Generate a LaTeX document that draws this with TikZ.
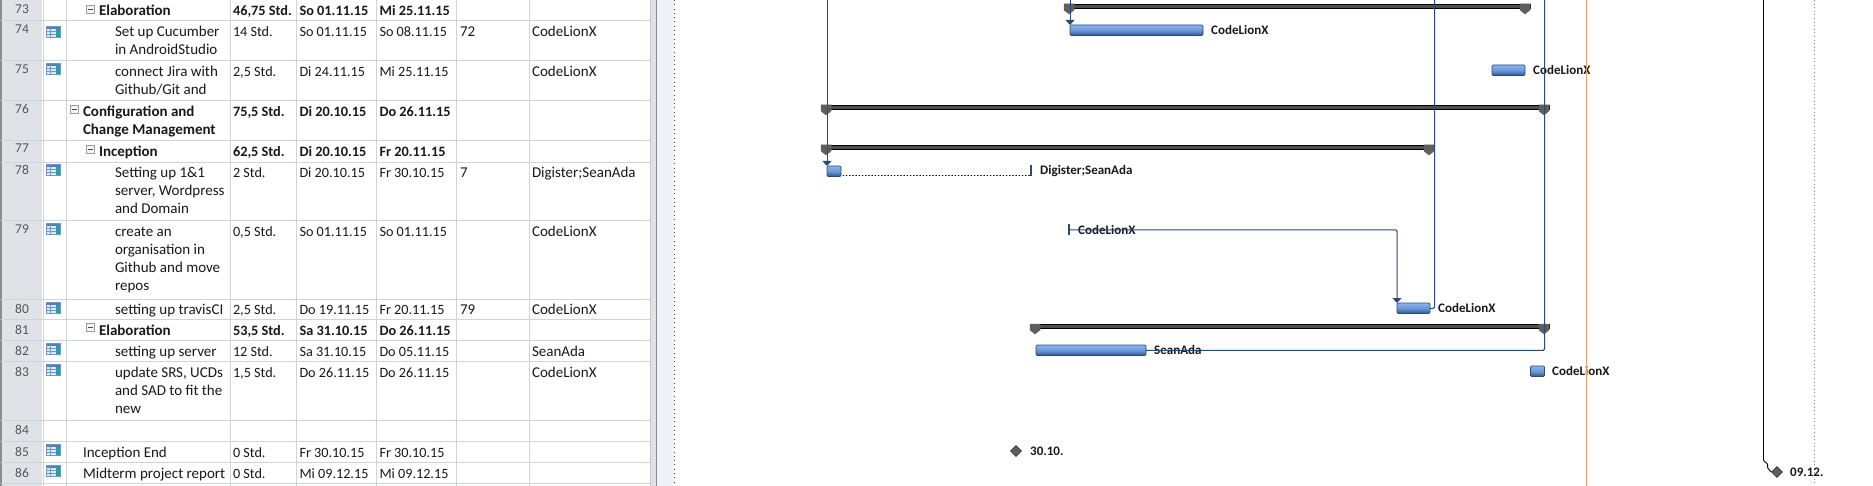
\documentclass[tikz,border=0pt]{standalone}
\usepackage{fontspec}
\setmainfont{Carlito}
\usetikzlibrary{shapes.geometric,arrows.meta}
\definecolor{gridc}{HTML}{D0D3D8}
\definecolor{numbg}{HTML}{DFE3E8}
\definecolor{numtx}{HTML}{555555}
\definecolor{pane}{HTML}{EEF2F7}
\definecolor{linkc}{HTML}{2B4A75}
\definecolor{bartop}{HTML}{8AB4EE}
\definecolor{barmid}{HTML}{6C98D8}
\definecolor{barbot}{HTML}{2F5888}
\definecolor{sumc}{HTML}{5E5F61}
\definecolor{sumd}{HTML}{4E4F51}
\definecolor{todayc}{HTML}{E8A468}
\definecolor{icband}{HTML}{4F7FB5}
\definecolor{icgrid}{HTML}{6E97C4}
\definecolor{iccell}{HTML}{DCE9F6}
\definecolor{icside}{HTML}{2F9BA5}
\newcommand{\ml}[1]{\begin{tabular}[t]{@{}l@{}}#1\end{tabular}}
\tikzset{
  x=1pt,y=-1pt,
  tx/.style={inner sep=0pt,outer sep=0pt,anchor=base west,yshift=-.6pt,text=black!90,font=\fontsize{15}{18}\selectfont},
  bx/.style={tx,font=\fontsize{15}{18}\selectfont\bfseries},
  dt/.style={tx,font=\fontsize{14.2}{18}\selectfont},
  bdt/.style={tx,font=\fontsize{14.3}{18}\selectfont\bfseries},
  num/.style={inner sep=0pt,anchor=base,text=numtx,font=\fontsize{13.5}{18}\selectfont},
  lab/.style={inner sep=0pt,anchor=west,text=black!90,font=\fontsize{13}{15}\selectfont\bfseries},
  taskbar/.style={draw=linkc,line width=.7pt,rounded corners=1.2pt,inner sep=0pt,outer sep=0pt,top color=bartop,bottom color=barbot,middle color=barmid},
  link/.style={draw=linkc,line width=1pt,rounded corners=1.2pt},
  arrowhead/.style={-{Triangle[length=5pt,width=9pt,fill=linkc]}},
  sumbar/.style={draw=black,line width=.9pt,fill=sumd,inner sep=0pt,outer sep=0pt},
  grid/.style={draw=gridc,line width=.8pt},
  tick/.style={fill=linkc,inner sep=0pt,outer sep=0pt,minimum width=2.4pt,minimum height=11pt},
  mile/.style={diamond,draw=black!80,fill=sumc,line width=.6pt,inner sep=0pt,minimum size=11pt},
}
\newcommand{\sumtask}[4]{% name, x1, x2, y top
  \node[sumbar,anchor=north west,minimum width=#3-#2,minimum height=4pt] (#1) at (#2,#4+.5) {};
  \fill[sumc,draw=black!60,line width=.5pt] (#2,#4) -- (#2+10,#4) -- (#2+10,#4+6) -- (#2+5,#4+10) -- (#2,#4+6) -- cycle;
  \fill[sumc,draw=black!60,line width=.5pt] (#3,#4) -- (#3-10,#4) -- (#3-10,#4+6) -- (#3-5,#4+10) -- (#3,#4+6) -- cycle;
}
\newcommand{\icon}[2]{% name, y
  \node[inner sep=0pt,outer sep=0pt,minimum width=14pt,minimum height=11pt,anchor=north west,fill=white,draw=none] (#1) at (46,#2) {};
  \fill[iccell] (46,#2) rectangle (60,#2+11);
  \fill[icband] (46,#2) rectangle (60,#2+2.8);
  \fill[icside] (55.5,#2+2.8) rectangle (60,#2+11);
  \draw[icgrid,line width=.5pt] (46,#2) rectangle (60,#2+11);
  \draw[icgrid,line width=.4pt] (46,#2+5.5) -- (55.5,#2+5.5) (46,#2+8.2) -- (55.5,#2+8.2) (50.5,#2) -- (50.5,#2+11);
}
\newcommand{\toggle}[3]{% name, x, y center
  \node[draw=black!40,fill=black!4,line width=.5pt,inner sep=0pt,minimum size=8pt] (#1) at (#2,#3) {};
  \draw[black!70,line width=.7pt] (#2-2.5,#3) -- (#2+2.5,#3);
}
\begin{document}
\begin{tikzpicture}
\useasboundingbox (0,0) rectangle (1873,486);
\fill[white] (0,0) rectangle (1873,486);
% number column and panes
\fill[numbg] (1,0) rectangle (42,486);
\fill[black!45] (0,0) rectangle (1.5,486);
\fill[pane] (657,0) rectangle (673.5,486);
\fill[black!22] (650,0) rectangle (651,486);
\fill[numbg] (651,0) rectangle (656,486);
\fill[black!45] (656,0) rectangle (657.2,486);
% grid
\foreach \yy in {20,60,100,140,162,220,299,319,340,361,420,441,462,483}
  \draw[grid] (1,\yy) -- (650,\yy);
\foreach \xx in {43,66,230,296,376,456,529}
  \draw[grid] (\xx,0) -- (\xx,486);
\draw[black!75,line width=1pt,dash pattern=on 1pt off 3.3pt] (674.5,0) -- (674.5,486);
\draw[black!50,line width=1pt,dash pattern=on 1pt off 2.6pt] (1814.5,0) -- (1814.5,486);
% row numbers
\foreach \n/\yy in {73/14,74/34,75/74,76/114,77/153,78/175,79/234,80/313,81/334,82/355,83/376,84/434,85/456,86/477}
  \node[num] (n\n) at (22,\yy) {\n};
% icons
\icon{i74}{26} \icon{i75}{63} \icon{i78}{164} \icon{i79}{223} \icon{i80}{302}
\icon{i82}{343} \icon{i83}{364} \icon{i85}{444} \icon{i86}{465}
% toggles
\toggle{t73}{90.5}{9} \toggle{t76}{74.5}{109} \toggle{t77}{90.5}{149} \toggle{t81}{90.5}{327.5}
% name column
\node[bx] (a73) at (99,15) {Elaboration};
\node[tx] (a74) at (115,36) {\ml{Set up Cucumber\\in AndroidStudio}};
\node[tx] (a75) at (115,76) {\ml{connect Jira with\\Github/Git and}};
\node[bx] (a76) at (83,116) {\ml{Configuration and\\Change Management}};
\node[bx] (a77) at (99,156) {Inception};
\node[tx] (a78) at (115,177) {\ml{Setting up 1\&1\\server, Wordpress\\and Domain}};
\node[tx] (a79) at (115,236) {\ml{create an\\organisation in\\Github and move\\repos}};
\node[tx] (a80) at (115,314) {setting up travisCI};
\node[bx] (a81) at (99,335) {Elaboration};
\node[tx] (a82) at (115,356) {setting up server};
\node[tx] (a83) at (115,377) {\ml{update SRS, UCDs\\and SAD to fit the\\new}};
\node[tx] (a85) at (83,457) {Inception End};
\node[tx] (a86) at (83,478) {Midterm project report};
% duration
\node[bdt] (d73) at (233,15) {46,75 Std.};
\node[dt] (d74) at (233,36) {14 Std.};
\node[dt] (d75) at (233,76) {2,5 Std.};
\node[bdt] (d76) at (233,116) {75,5 Std.};
\node[bdt] (d77) at (233,156) {62,5 Std.};
\node[dt] (d78) at (233,177) {2 Std.};
\node[dt] (d79) at (233,236) {0,5 Std.};
\node[dt] (d80) at (233,314) {2,5 Std.};
\node[bdt] (d81) at (233,335) {53,5 Std.};
\node[dt] (d82) at (233,356) {12 Std.};
\node[dt] (d83) at (233,377) {1,5 Std.};
\node[dt] (d85) at (233,457) {0 Std.};
\node[dt] (d86) at (233,478) {0 Std.};
% start
\node[bdt] (s73) at (299.5,15) {So 01.11.15};
\node[dt] (s74) at (299.5,36) {So 01.11.15};
\node[dt] (s75) at (299.5,76) {Di 24.11.15};
\node[bdt] (s76) at (299.5,116) {Di 20.10.15};
\node[bdt] (s77) at (299.5,156) {Di 20.10.15};
\node[dt] (s78) at (299.5,177) {Di 20.10.15};
\node[dt] (s79) at (299.5,236) {So 01.11.15};
\node[dt] (s80) at (299.5,314) {Do 19.11.15};
\node[bdt] (s81) at (299.5,335) {Sa 31.10.15};
\node[dt] (s82) at (299.5,356) {Sa 31.10.15};
\node[dt] (s83) at (299.5,377) {Do 26.11.15};
\node[dt] (s85) at (299.5,457) {Fr 30.10.15};
\node[dt] (s86) at (299.5,478) {Mi 09.12.15};
% finish
\node[bdt] (f73) at (379.5,15) {Mi 25.11.15};
\node[dt] (f74) at (379.5,36) {So 08.11.15};
\node[dt] (f75) at (379.5,76) {Mi 25.11.15};
\node[bdt] (f76) at (379.5,116) {Do 26.11.15};
\node[bdt] (f77) at (379.5,156) {Fr 20.11.15};
\node[dt] (f78) at (379.5,177) {Fr 30.10.15};
\node[dt] (f79) at (379.5,236) {So 01.11.15};
\node[dt] (f80) at (379.5,314) {Fr 20.11.15};
\node[bdt] (f81) at (379.5,335) {Do 26.11.15};
\node[dt] (f82) at (379.5,356) {Do 05.11.15};
\node[dt] (f83) at (379.5,377) {Do 26.11.15};
\node[dt] (f85) at (379.5,457) {Fr 30.10.15};
\node[dt] (f86) at (379.5,478) {Mi 09.12.15};
% predecessors
\node[tx] (p74) at (460,36) {72};
\node[tx] (p78) at (460,177) {7};
\node[tx] (p80) at (460,314) {79};
% resources
\node[tx] (r74) at (532,36) {CodeLionX};
\node[tx] (r75) at (532,76) {CodeLionX};
\node[tx] (r78) at (532,177) {Digister;SeanAda};
\node[tx] (r79) at (532,236) {CodeLionX};
\node[tx] (r80) at (532,314) {CodeLionX};
\node[tx] (r82) at (532,356) {SeanAda};
\node[tx] (r83) at (532,377) {CodeLionX};
% gantt free ends
\coordinate (top827) at (827,0);
\coordinate (top1070) at (1070,0);
\coordinate (top1434) at (1434.5,0);
\coordinate (top1544) at (1544.5,0);
\coordinate (top1763) at (1763.5,0);
% labels under lines
\node[lab] (l74) at (1211,30) {CodeLionX};
\node[lab] (l75) at (1533,70) {CodeLionX};
\node[lab] (l78) at (1040,171) {Digister;SeanAda};
\node[lab] (l79) at (1078,230) {CodeLionX};
\node[lab] (l80) at (1438,308) {CodeLionX};
\node[lab] (l82) at (1154,350) {SeanAda};
\node[lab] (l83) at (1552,371) {CodeLionX};
\node[lab] (l85) at (1030,451) {30.10.};
\node[lab] (l86) at (1790,472) {09.12.};
% today line
\draw[todayc,line width=1pt] (1586,0) -- (1586,486);
% summary bars
\sumtask{b73}{1064}{1530}{4}
\sumtask{b76}{821}{1549}{105}
\sumtask{b77}{821}{1434}{145}
\sumtask{b81}{1030}{1549}{324}
% task bars
\node[taskbar,anchor=north west,minimum width=133pt,minimum height=10.5pt] (b74) at (1070,25) {};
\node[taskbar,anchor=north west,minimum width=33pt,minimum height=10.5pt] (b75) at (1492,65) {};
\node[taskbar,anchor=north west,minimum width=14pt,minimum height=10.5pt] (b78) at (827,166) {};
\node[taskbar,anchor=north west,minimum width=33pt,minimum height=10.5pt] (b80) at (1397,303) {};
\node[taskbar,anchor=north west,minimum width=110pt,minimum height=10.5pt] (b82) at (1036,345) {};
\node[taskbar,anchor=north west,minimum width=14pt,minimum height=10.5pt] (b83) at (1530.5,366) {};
% ticks and milestones
\node[tick] (k78) at (1031,171) {};
\node[tick] (k79) at (1069,230) {};
\node[mile] (m85) at (1016,451) {};
\node[mile] (m86) at (1777,472) {};
% connectors
\draw[link,arrowhead] (top827) -- (827,166);
\draw[link,arrowhead] (top1070) -- (1070,25);
\draw[link] (top1434) |- (b80.east);
\draw[link,arrowhead] (k79.east) -| (1397,303);
\draw[link] (top1544) |- (b82.east);
\draw[black,line width=.8pt,line cap=round,dash pattern=on .8pt off 2.4pt] (b78.south east) ++(2,-1) -- (k78.south west |- 0,175.5);
\draw[black,line width=.9pt,rounded corners=.8pt] (top1763) -- (1763.5,460.7) -- (1767.6,464) -- (1767.6,468) -- (m86.west);
\end{tikzpicture}
\end{document}
